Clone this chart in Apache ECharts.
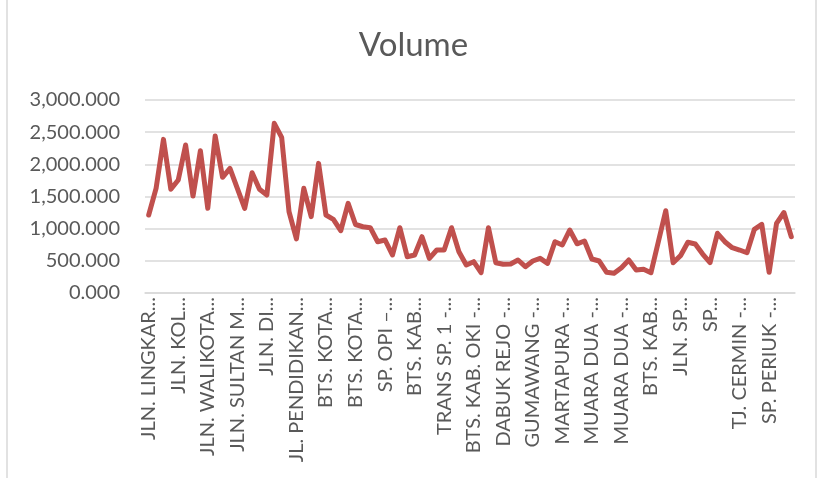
<!DOCTYPE html>
<html>
<head>
<meta charset="utf-8">
<script src="https://cdn.jsdelivr.net/npm/echarts@6/dist/echarts.min.js"></script>
<style>
html,body{margin:0;padding:0;background:#fff;}
#chart{width:827px;height:478px;}
</style>
</head>
<body>
<div id="chart"></div>
<script>
// Visible (truncated) category labels, one every 4 categories
const labelNames = [
  "JLN. LINGKAR...", "JLN. KOL...", "JLN. WALIKOTA...", "JLN. SULTAN M...",
  "JLN. DI...", "JL. PENDIDIKAN...", "BTS. KOTA...", "BTS. KOTA...",
  "SP. OPI –...", "BTS. KAB...", "TRANS SP. 1 -...", "BTS. KAB. OKI -...",
  "DABUK REJO -...", "GUMAWANG -...", "MARTAPURA -...", "MUARA DUA -...",
  "MUARA DUA -...", "BTS. KAB...", "JLN. SP...", "SP...",
  "TJ. CERMIN -...", "SP. PERIUK -..."
];
const labelStep = 4;

const volume = [
  1212, 1627, 2388, 1612, 1756, 2300, 1507, 2211, 1316, 2440,
  1798, 1938, 1627, 1316, 1870, 1612, 1523, 2637, 2420, 1263,
  840, 1627, 1186, 2015, 1212, 1145, 968, 1394, 1065, 1030,
  1015, 797, 824, 591, 1015, 564, 591, 875, 539, 668,
  668, 1015, 642, 435, 487, 316, 1015, 471, 446, 451,
  513, 409, 497, 539, 461, 797, 746, 979, 765, 808,
  528, 497, 321, 306, 393, 513, 357, 368, 316, 797,
  1279, 471, 580, 788, 762, 606, 471, 928, 797, 704,
  668, 626, 990, 1068, 321, 1083, 1251, 875
];

const yTicks = { min: 0, max: 3000, interval: 500 };

const categories = volume.map((v, i) => (i % labelStep === 0 ? labelNames[i / labelStep] : ""));

const chart = echarts.init(document.getElementById('chart'), null, { renderer: 'canvas' });
const font = 'Lato, "Open Sans", sans-serif';
chart.setOption({
  animation: false,
  backgroundColor: '#ffffff',
  title: {
    text: 'Volume',
    left: 'center',
    top: 24,
    textStyle: { fontFamily: font, fontSize: 33, fontWeight: 'normal', color: '#595959' }
  },
  grid: { left: 145, right: 32, top: 100, bottom: 185, containLabel: false },
  xAxis: {
    type: 'category',
    data: categories,
    boundaryGap: true,
    axisLine: { show: true, lineStyle: { color: '#d9d9d9', width: 1.5 } },
    axisTick: { show: false },
    axisLabel: {
      interval: labelStep - 1,
      rotate: 90,
      margin: 4,
      fontFamily: font,
      fontSize: 20,
      color: '#595959'
    }
  },
  yAxis: {
    type: 'value',
    min: yTicks.min,
    max: yTicks.max,
    interval: yTicks.interval,
    axisLine: { show: false },
    axisTick: { show: false },
    splitLine: { lineStyle: { color: '#d9d9d9', width: 1.5 } },
    axisLabel: {
      margin: 25,
      fontFamily: font,
      fontSize: 20,
      color: '#595959',
      formatter: v => v.toLocaleString('en-US', { minimumFractionDigits: 3, maximumFractionDigits: 3 })
    }
  },
  series: [{
    type: 'line',
    data: volume,
    symbol: 'none',
    lineStyle: { color: '#c0504d', width: 5, join: 'round', cap: 'round' },
    itemStyle: { color: '#c0504d' }
  }],
  graphic: [
    { type: 'line', shape: { x1: 7, y1: 0, x2: 7, y2: 478 }, style: { stroke: '#d9d9d9', lineWidth: 1.5 } },
    { type: 'line', shape: { x1: 816, y1: 0, x2: 816, y2: 478 }, style: { stroke: '#d9d9d9', lineWidth: 1.5 } }
  ]
});
</script>
</body>
</html>
